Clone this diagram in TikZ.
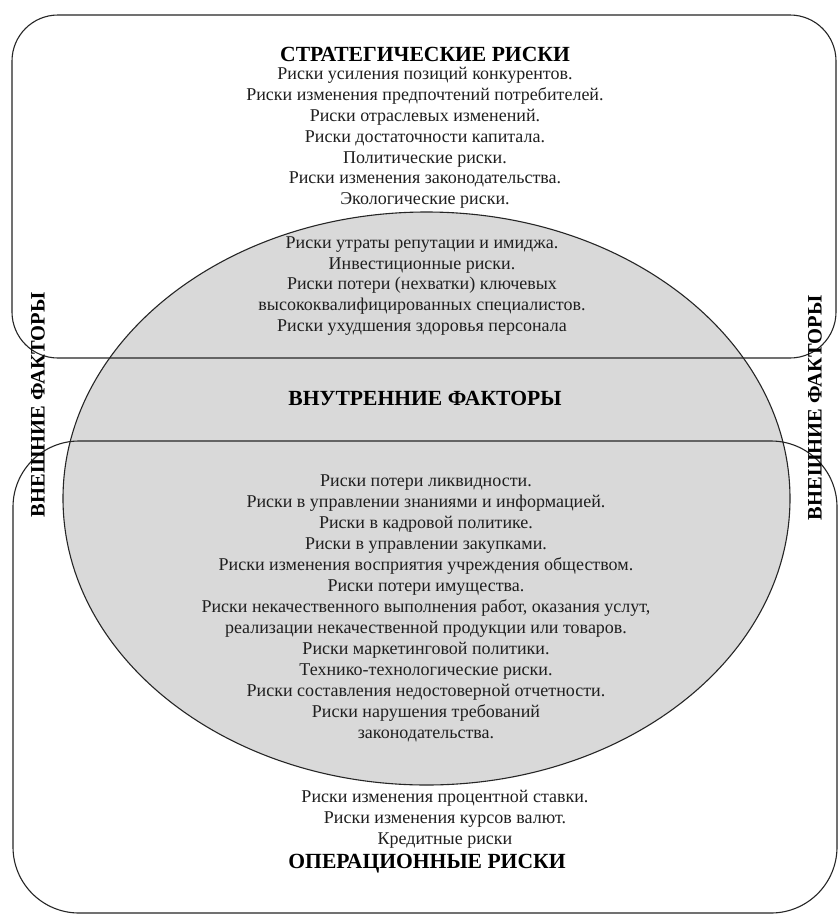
\documentclass[tikz,border=0pt]{standalone}
\usepackage{fontspec}
\setmainfont{Liberation Serif}
\begin{document}
\begin{tikzpicture}[x=1pt,y=-1pt,
  outline/.style={draw=black!85, line width=1.1pt},
  body/.style={align=center, font=\fontsize{18}{20.8}\selectfont, inner sep=0pt, text=black!88},
  head/.style={font=\bfseries\fontsize{21.6}{24}\selectfont, inner sep=0pt},
  side/.style={font=\bfseries\fontsize{20.5}{24}\selectfont, inner sep=0pt, rotate=90}]
\useasboundingbox (0,0) rectangle (838,916);
\fill[white] (0,0) rectangle (838,916);
% inner factors ellipse (fill)
\fill[black!15] (426.5,498.5) ellipse [x radius=363.5, y radius=286.5];
% strategic risks box
\draw[outline, rounded corners=46pt] (12,15) rectangle (836,358);
% operational risks box
\draw[outline, rounded corners=66pt] (13,441) rectangle (837,913);
% ellipse outline
\draw[outline] (426.5,498.5) ellipse [x radius=363.5, y radius=286.5];

\node[head] (strat) at (425,54) {СТРАТЕГИЧЕСКИЕ РИСКИ};
\node[body] (stratlist) at (425,138) {Риски усиления позиций конкурентов.\\
Риски изменения предпочтений потребителей.\\
Риски отраслевых изменений.\\
Риски достаточности капитала.\\
Политические риски.\\
Риски изменения законодательства.\\
Экологические риски.};

\node[body] (inner1) at (422,286) {Риски утраты репутации и имиджа.\\
Инвестиционные риски.\\
Риски потери (нехватки) ключевых\\
высококвалифицированных специалистов.\\
Риски ухудшения здоровья персонала};

\node[head] (internal) at (425,398) {ВНУТРЕННИЕ ФАКТОРЫ};

\node[body, font=\fontsize{18}{21}\selectfont] (inner2) at (426,608) {Риски потери ликвидности.\\
Риски в управлении знаниями и информацией.\\
Риски в кадровой политике.\\
Риски в управлении закупками.\\
Риски изменения восприятия учреждения обществом.\\
Риски потери имущества.\\
Риски некачественного выполнения работ, оказания услут,\\
реализации некачественной продукции или товаров.\\
Риски маркетинговой политики.\\
Технико-технологические риски.\\
Риски составления недостоверной отчетности.\\
Риски нарушения требований\\
законодательства.};

\node[body, font=\fontsize{18}{21}\selectfont] (oplist) at (445,819) {Риски изменения процентной ставки.\\
Риски изменения курсов валют.\\
Кредитные риски};
\node[head] (oper) at (427,864) {ОПЕРАЦИОННЫЕ РИСКИ};

\node[side] (extleft) at (38,405) {ВНЕШНИЕ ФАКТОРЫ};
\node[side] (extright) at (815,408) {ВНЕШНИЕ ФАКТОРЫ};
\end{tikzpicture}
\end{document}
